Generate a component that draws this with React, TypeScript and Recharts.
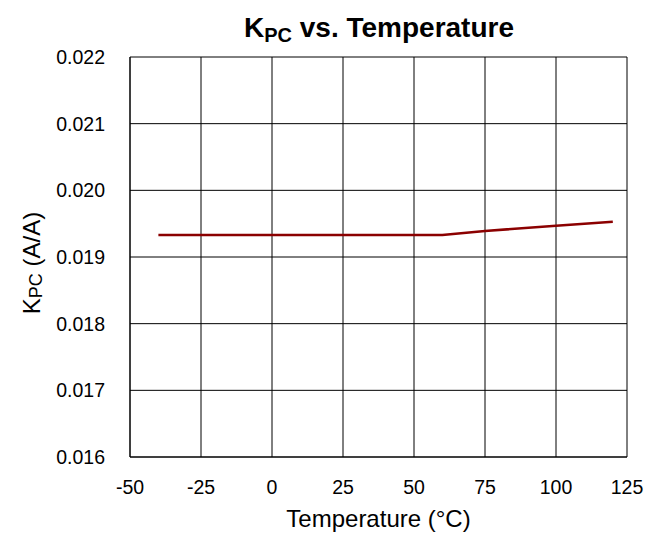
import React from 'react';
import { LineChart, Line, XAxis, YAxis, CartesianGrid, Label } from 'recharts';

const temperatures = [-40, -25, 0, 25, 50, 60, 75, 100, 120];
const kpcValues = [0.01933, 0.01933, 0.01933, 0.01933, 0.01933, 0.01933, 0.01939, 0.01947, 0.01953];
const xTicks = [-50, -25, 0, 25, 50, 75, 100, 125];
const yTicks = [0.016, 0.017, 0.018, 0.019, 0.02, 0.021, 0.022];

const data = temperatures.map((t, i) => ({ t, kpc: kpcValues[i] }));

const FONT = '"Liberation Sans", Arial, sans-serif';

const YLabel = (props: { viewBox?: { x: number; y: number; width: number; height: number } }) => {
  const vb = props.viewBox ?? { x: 0, y: 0, width: 0, height: 0 };
  const cx = 31;
  const cy = vb.y + vb.height / 2 + 6;
  return (
    <text
      x={cx} y={cy} transform={`rotate(-90, ${cx}, ${cy})`}
      textAnchor="middle" dominantBaseline="central"
      style={{ fontFamily: FONT, fontSize: 24, fill: '#000' }}
    >
      K<tspan fontSize={18} dy={5}>PC</tspan><tspan dy={-5}> (A/A)</tspan>
    </text>
  );
};

export default function App() {
  return (
    <div style={{ position: 'absolute', left: 0, top: 0, width: 664, height: 537, background: '#fff' }}>
      <svg width={664} height={50} style={{ position: 'absolute', left: 0, top: 0 }}>
        <text
          x={379} y={37} textAnchor="middle"
          style={{ fontFamily: FONT, fontWeight: 700, fontSize: 28, fill: '#000' }}
        >
          K<tspan fontSize={20} dy={5}>PC</tspan><tspan dy={-5}> vs. Temperature</tspan>
        </text>
      </svg>
      <LineChart
        width={664} height={537} data={data}
        margin={{ top: 57, right: 37, bottom: 0, left: 0 }}
        style={{ position: 'absolute', left: 0, top: 0 }}
      >
        <CartesianGrid stroke="#000" strokeWidth={1} />
        <XAxis
          type="number" dataKey="t" domain={[-50, 125]} ticks={xTicks}
          height={80} tickLine={false} tickSize={0} tickMargin={23}
          axisLine={{ stroke: '#000' }}
          tick={{ fill: '#000', fontSize: 19.5, fontFamily: FONT }}
          interval={0}
        >
          <Label
            value="Temperature (°C)" position="insideBottom" offset={10}
            style={{ fill: '#000', fontSize: 24, fontFamily: FONT }}
          />
        </XAxis>
        <YAxis
          type="number" domain={[0.016, 0.022]} ticks={yTicks}
          width={130} tickLine={false} tickSize={0} tickMargin={25}
          axisLine={{ stroke: '#000' }}
          tick={{ fill: '#000', fontSize: 19.5, fontFamily: FONT }}
          tickFormatter={(v: number) => v.toFixed(3)}
          interval={0}
        >
          <Label content={<YLabel />} />
        </YAxis>
        <Line
          type="linear" dataKey="kpc" stroke="#8B0000" strokeWidth={2.5}
          dot={false} isAnimationActive={false}
        />
      </LineChart>
    </div>
  );
}
